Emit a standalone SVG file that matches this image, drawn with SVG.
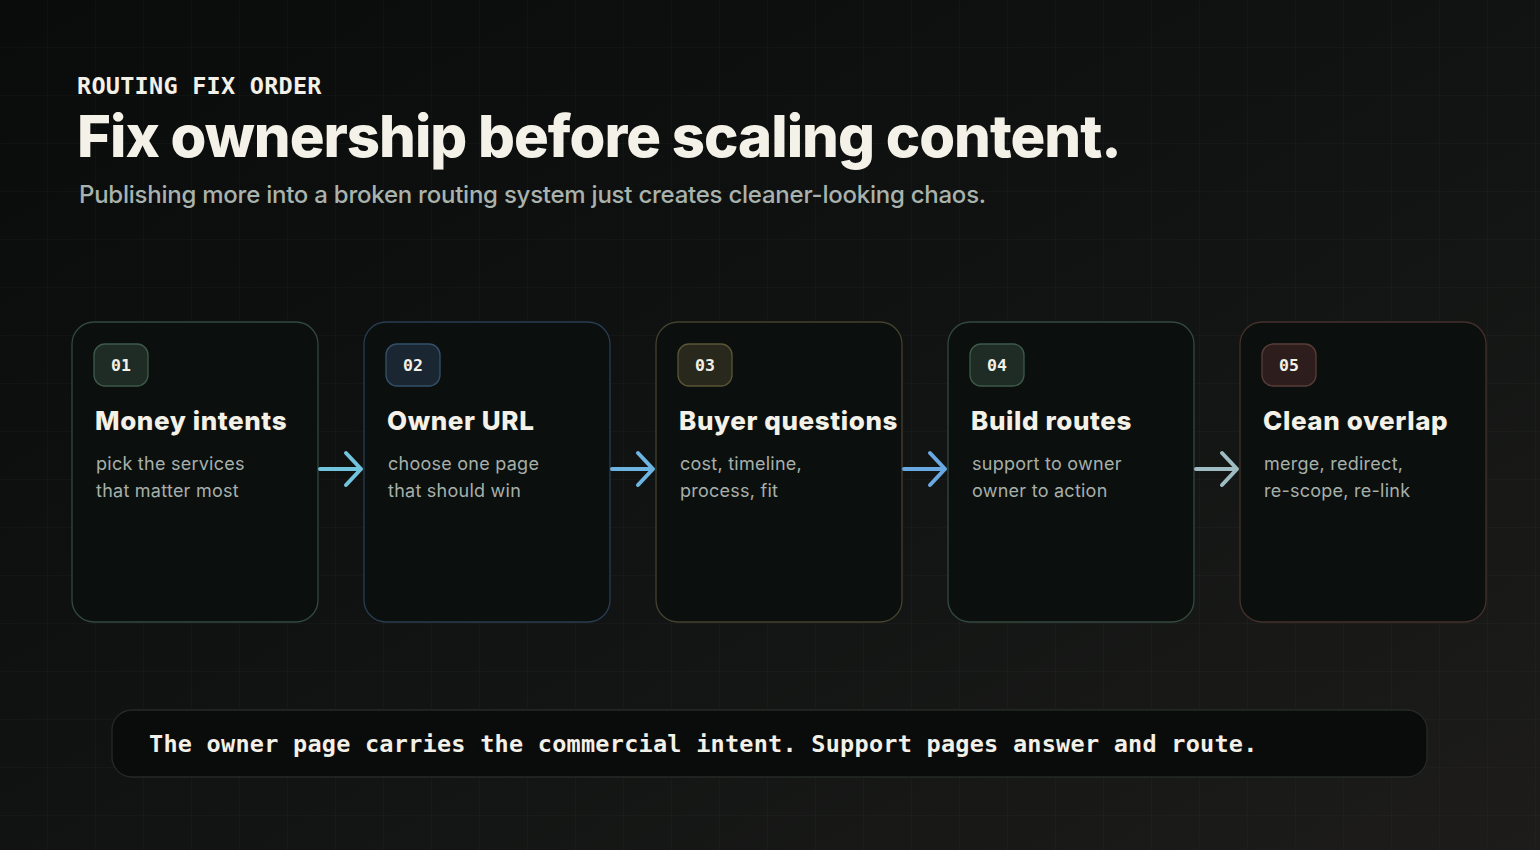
<svg xmlns="http://www.w3.org/2000/svg" width="1540" height="850" viewBox="0 0 1540 850">
<defs>
<linearGradient id="bg" x1="0" y1="0" x2="1" y2="1">
<stop offset="0" stop-color="#0a0b0b"/>
<stop offset="0.55" stop-color="#111413"/>
<stop offset="1" stop-color="#1d1c1a"/>
</linearGradient>
<pattern id="grid" width="48" height="48" patternUnits="userSpaceOnUse">
<path d="M48 0V48M0 48H48" fill="none" stroke="#ffffff" stroke-opacity="0.035" stroke-width="1"/>
</pattern>
<style>
.card{fill:#0b100e;stroke-width:1.3}
.badge{stroke-width:1.3}
.num{font-family:"DejaVu Sans Mono","Liberation Mono",monospace;font-weight:700;font-size:16.5px;fill:#f3f0e8;text-anchor:middle}
.ttl{font-family:Inter,"Liberation Sans",sans-serif;font-weight:800;font-size:26px;fill:#f4f1e8;letter-spacing:0.6px}
.dsc{font-family:Inter,"Liberation Sans",sans-serif;font-weight:400;font-size:18px;fill:#a7afaa;letter-spacing:0.25px}
.arr{fill:none;stroke-width:4;stroke-linecap:round;stroke-linejoin:round}
.mono{font-family:"DejaVu Sans Mono","Liberation Mono",monospace;font-weight:700;font-size:23.5px;fill:#f3f0e8;letter-spacing:0.25px}
</style>
</defs>
<rect width="1540" height="850" fill="url(#bg)"/>
<rect width="1540" height="850" fill="url(#grid)"/>

<g id="header">
<text class="mono" x="77" y="94">ROUTING FIX ORDER</text>
<text x="77" y="157" font-family="Inter,Liberation Sans,sans-serif" font-weight="800" font-size="58" letter-spacing="-1.0" fill="#f4f1e8">Fix ownership before scaling content.</text>
<text x="79" y="203" font-family="Inter,Liberation Sans,sans-serif" font-weight="500" font-size="24" letter-spacing="-0.24" fill="#a9b3ad">Publishing more into a broken routing system just creates cleaner-looking chaos.</text>
</g>

<g id="step1">
<rect class="card" x="72" y="322" width="246" height="300" rx="22" stroke="#324840"/>
<rect class="badge" x="94" y="344" width="54" height="42" rx="11" fill="#1e2c25" stroke="#3e5a4b"/>
<text class="num" x="121" y="371">01</text>
<text class="ttl" x="95" y="430">Money intents</text>
<text class="dsc" x="96" y="470">pick the services</text>
<text class="dsc" x="96" y="497">that matter most</text>
</g>

<g id="step2">
<rect class="card" x="364" y="322" width="246" height="300" rx="22" stroke="#2a3c52"/>
<rect class="badge" x="386" y="344" width="54" height="42" rx="11" fill="#1a2632" stroke="#34506a"/>
<text class="num" x="413" y="371">02</text>
<text class="ttl" x="387" y="430">Owner URL</text>
<text class="dsc" x="388" y="470">choose one page</text>
<text class="dsc" x="388" y="497">that should win</text>
</g>

<g id="step3">
<rect class="card" x="656" y="322" width="246" height="300" rx="22" stroke="#45412e"/>
<rect class="badge" x="678" y="344" width="54" height="42" rx="11" fill="#29281d" stroke="#5a5536"/>
<text class="num" x="705" y="371">03</text>
<text class="ttl" x="679" y="430">Buyer questions</text>
<text class="dsc" x="680" y="470">cost, timeline,</text>
<text class="dsc" x="680" y="497">process, fit</text>
</g>

<g id="step4">
<rect class="card" x="948" y="322" width="246" height="300" rx="22" stroke="#34483f"/>
<rect class="badge" x="970" y="344" width="54" height="42" rx="11" fill="#1e2c25" stroke="#3e5a4b"/>
<text class="num" x="997" y="371">04</text>
<text class="ttl" x="971" y="430">Build routes</text>
<text class="dsc" x="972" y="470">support to owner</text>
<text class="dsc" x="972" y="497">owner to action</text>
</g>

<g id="step5">
<rect class="card" x="1240" y="322" width="246" height="300" rx="22" stroke="#45302c"/>
<rect class="badge" x="1262" y="344" width="54" height="42" rx="11" fill="#2d1e1d" stroke="#5a3c39"/>
<text class="num" x="1289" y="371">05</text>
<text class="ttl" x="1263" y="430">Clean overlap</text>
<text class="dsc" x="1264" y="470">merge, redirect,</text>
<text class="dsc" x="1264" y="497">re-scope, re-link</text>
</g>

<g id="connectors">
<path class="arr" stroke="#72c3dc" d="M320 469H361M346 453L361 469L346 485"/>
<path class="arr" stroke="#6db4e2" d="M612 469H653M638 453L653 469L638 485"/>
<path class="arr" stroke="#6aa8e2" d="M904 469H945M930 453L945 469L930 485"/>
<path class="arr" stroke="#9fbcc2" d="M1196 469H1237M1222 453L1237 469L1222 485"/>
</g>

<g id="footer">
<rect x="112" y="710" width="1315" height="67" rx="20" fill="#0a0c0b" stroke="#262a27" stroke-width="1.3"/>
<text class="mono" x="149" y="752">The owner page carries the commercial intent. Support pages answer and route.</text>
</g>
</svg>
